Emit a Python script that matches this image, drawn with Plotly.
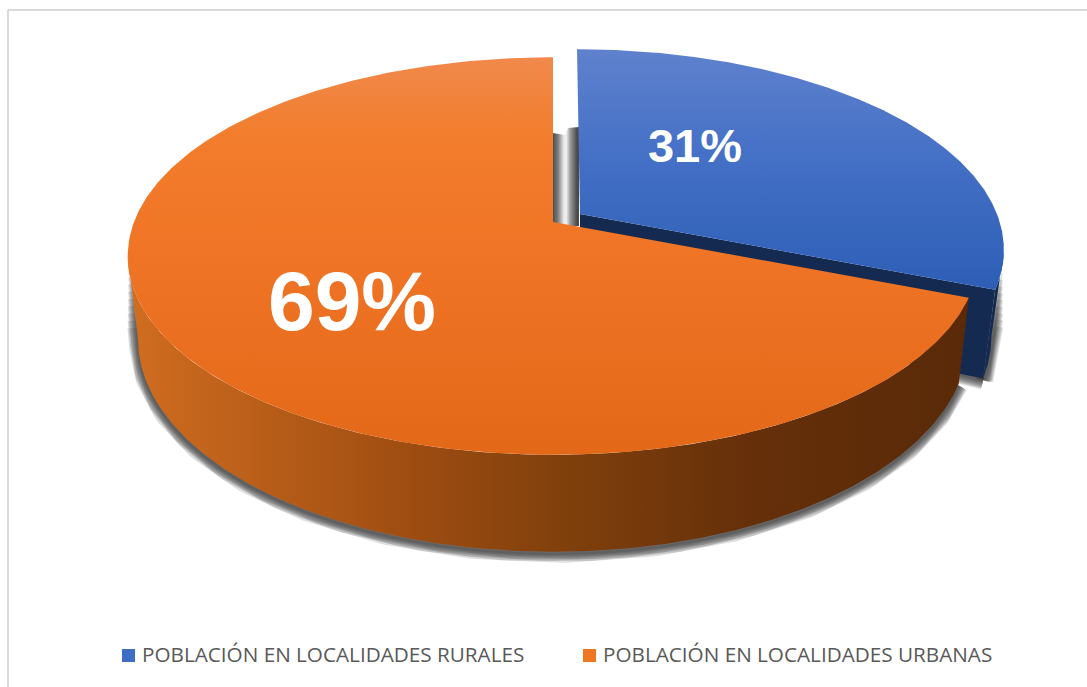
import numpy as np
import plotly.graph_objects as go

# ---- data ----
categories = ["POBLACIÓN EN LOCALIDADES RURALES", "POBLACIÓN EN LOCALIDADES URBANAS"]
values = [31, 69]

# ---- styling / projection of the tilted disc ----
W, H = 1087, 687
K = 0.171              # perspective strength
PROJ_RURAL = dict(x0=580, y0=214, a=417, b=193, shear=3.5)
PROJ_URBAN = dict(x0=553, y0=222, a=419, b=193, shear=0)
DEPTH_RURAL, SCALE_RURAL = 83, 0.971
DEPTH_URBAN, SCALE_URBAN = 80.4, 0.976

FONT = "Open Sans, sans-serif"
LEGEND_COLORS = ["#3f6cc4", "#ef7722"]
LEGEND_MARK_X = [128.5, 589.5]
LEGEND_TEXT_X = [140, 601]
LEGEND_MARK_Y = 655.5
LEGEND_TEXT_Y = 654.2


def project(t, p, depth=0.0, scale=1.0):
    """t = clockwise angle from 12 o'clock in radians; returns x, y on the page axes."""
    X, Y = np.sin(t), -np.cos(t)
    w = 1 - K * Y
    x = p["x0"] + (scale * p["a"] * X + p["shear"] * Y) / w
    y = p["y0"] + (p["b"] * Y + depth) / w
    return x, y


def arc(t0, t1, p, depth=0.0, scale=1.0, n=300):
    return project(np.linspace(t0, t1, n), p, depth, scale)


def poly(xs, ys, **kw):
    return go.Scatter(x=xs, y=ys, mode="lines", fill="toself", line=dict(width=0),
                      hoverinfo="skip", showlegend=False, **kw)


def grad(kind, start, stop, scale):
    return dict(type=kind, start=start, stop=stop, colorscale=scale)


split = 2 * np.pi * values[0] / sum(values)
full = 2 * np.pi

fig = go.Figure()

# visible outer walls: from the cut to the silhouette tangent of each rim
tx_r, ty_r = arc(np.radians(60), split, PROJ_RURAL)
bx_r, by_r = arc(np.radians(60), split, PROJ_RURAL, DEPTH_RURAL, SCALE_RURAL)
ti, bi = int(np.argmax(tx_r)), int(np.argmax(bx_r))
wall_r_x = np.r_[tx_r[ti:], bx_r[bi:][::-1]]
wall_r_y = np.r_[ty_r[ti:], by_r[bi:][::-1]]

tx_u, ty_u = arc(split, np.radians(300), PROJ_URBAN)
bx_u, by_u = arc(split, np.radians(300), PROJ_URBAN, DEPTH_URBAN, SCALE_URBAN)
ti_u, bi_u = int(np.argmin(tx_u)), int(np.argmin(bx_u))
wall_u_x = np.r_[tx_u[:ti_u + 1], bx_u[:bi_u + 1][::-1]]
wall_u_y = np.r_[ty_u[:ti_u + 1], by_u[:bi_u + 1][::-1]]

# soft drop shadows below the solid; wider layers stop earlier so the ends taper away
f = np.linspace(0, 1, 40)[1:]
left_x = bx_u[bi_u] + f * (tx_u[ti_u] - bx_u[bi_u]) * 0.85
left_y = by_u[bi_u] + f * (ty_u[ti_u] - by_u[bi_u]) * 0.85
path_u_x = np.r_[bx_u[:bi_u + 1], left_x]
path_u_y = np.r_[by_u[:bi_u + 1], left_y] + 2
right_x = bx_r[bi] + f * (tx_r[ti] - bx_r[bi]) * 0.75
right_y = by_r[bi] + f * (ty_r[ti] - by_r[bi]) * 0.75
path_r_x = np.r_[right_x[::-1], bx_r[bi:]] + 1
path_r_y = np.r_[right_y[::-1], by_r[bi:]] + 2
foot_x = np.r_[bx_r[-1], PROJ_RURAL["x0"] + 0.94 * (bx_r[-1] - PROJ_RURAL["x0"])]
foot_y = np.r_[by_r[-1], by_r[-1] - 6] + 2
for i, width in enumerate(range(2, 20, 2)):
    cut = 4 * i
    for xs, ys in ((path_u_x[:len(path_u_x) - cut], path_u_y[:len(path_u_y) - cut]),
                   (path_r_x[cut:], path_r_y[cut:]),
                   (foot_x, foot_y)):
        fig.add_trace(go.Scatter(x=xs, y=ys, mode="lines",
                                 line=dict(color="rgba(55,55,55,0.16)", width=width),
                                 hoverinfo="skip", showlegend=False))

# rural wedge: outer wall, cut face, top
fig.add_trace(poly(wall_r_x, wall_r_y, fillcolor="#142a50"))
ax_r = PROJ_RURAL["x0"]
ay_r = PROJ_RURAL["y0"]
fig.add_trace(poly([ax_r, tx_r[-1], bx_r[-1], ax_r], [ay_r, ty_r[-1], by_r[-1], ay_r + DEPTH_RURAL],
                   fillcolor="#142a50"))

# gap shadow between the two wedges
ax_u, ay_u = PROJ_URBAN["x0"], PROJ_URBAN["y0"]
fig.add_trace(poly([ax_u, ax_u + 12, ax_u + 15, ax_r - 1, ax_r - 1, ax_u],
                   [ay_u - 89, ay_u - 87, ay_u - 94, ay_u - 95, ay_u + 4, ay_u + 4],
                   fillgradient=grad("horizontal", ax_u, ax_r - 3,
                                     [[0, "#4f4f4f"], [0.2, "#7a7a7a"], [0.45, "#e8e8e8"], [0.55, "#f2f2f2"],
                                      [0.72, "#9a9a9a"], [1, "#4a4a4a"]])))

wx, wy = arc(0, split, PROJ_RURAL)
fig.add_trace(poly(np.r_[ax_r, wx], np.r_[ay_r, wy],
                   fillgradient=grad("vertical", 50, 290,
                                     [[0, "#5f81cd"], [0.45, "#4470c6"], [1, "#2d5eb6"]])))

# urban wedge: wall then top
fig.add_trace(poly(wall_u_x, wall_u_y,
                   fillgradient=grad("horizontal", 130, 965,
                                     [[0, "#d06d20"], [0.32, "#a14e12"], [0.52, "#80400c"],
                                      [0.75, "#652f0a"], [1, "#5a2a08"]])))
ux, uy = arc(split, full, PROJ_URBAN)
fig.add_trace(poly(np.r_[ax_u, ux], np.r_[ay_u, uy],
                   fillgradient=grad("vertical", 57, 455,
                                     [[0, "#f0894c"], [0.2, "#f27d2c"], [0.5, "#f07425"],
                                      [1, "#e36818"]])))

# data labels
fig.add_trace(go.Scatter(x=[695], y=[150], mode="text", text=[f"{values[0]}%"],
                         textfont=dict(family="Liberation Sans", size=47, color="white", weight="bold"),
                         hoverinfo="skip", showlegend=False))
fig.add_trace(go.Scatter(x=[352], y=[309], mode="text", text=[f"{values[1]}%"],
                         textfont=dict(family="Liberation Sans", size=84, color="white", weight="bold"),
                         hoverinfo="skip", showlegend=False))

# legend entries
annotations = []
for name, color, mx, tx in zip(categories, LEGEND_COLORS, LEGEND_MARK_X, LEGEND_TEXT_X):
    fig.add_trace(go.Scatter(x=[mx], y=[LEGEND_MARK_Y], mode="markers", name=name,
                             marker=dict(symbol="square", size=13, color=color),
                             hoverinfo="skip", showlegend=False))
    annotations.append(dict(x=tx, y=LEGEND_TEXT_Y, text=name, showarrow=False, xanchor="left", yanchor="middle",
                            font=dict(family=FONT, size=20.7, color="#595959")))

fig.update_layout(
    width=W, height=H, autosize=False,
    margin=dict(l=0, r=0, t=0, b=0),
    paper_bgcolor="white", plot_bgcolor="white",
    xaxis=dict(range=[0, W], visible=False, fixedrange=True),
    yaxis=dict(range=[H, 0], visible=False, fixedrange=True),
    showlegend=False,
    annotations=annotations,
    shapes=[
        dict(type="line", xref="paper", yref="paper", x0=8 / W, x1=1, y0=1 - 10 / H, y1=1 - 10 / H,
             line=dict(color="#d9d9d9", width=2)),
        dict(type="line", xref="paper", yref="paper", x0=8 / W, x1=8 / W, y0=0, y1=1 - 10 / H,
             line=dict(color="#d9d9d9", width=2)),
    ],
)

fig.write_html("out.html", config=dict(displayModeBar=False),
               post_script="document.body.style.margin='0';document.body.style.overflow='hidden';")
